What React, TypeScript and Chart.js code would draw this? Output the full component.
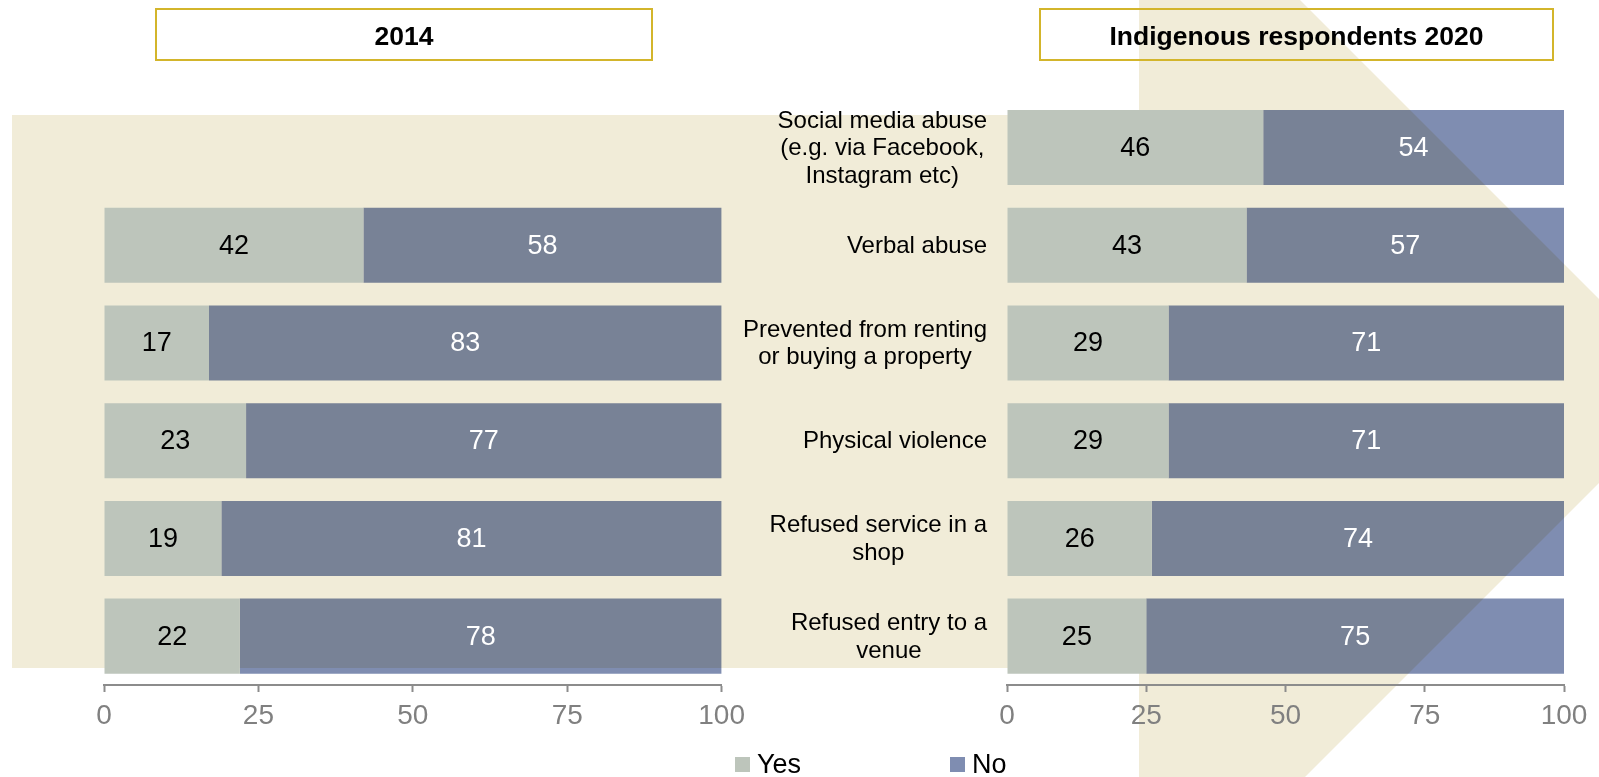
import React, { useEffect, useRef } from "react";
import { Chart, registerables } from "chart.js";

Chart.register(...registerables);

// ---------- data ----------
const categories: string[][] = [
  ["Social media abuse", "(e.g. via Facebook,", "Instagram etc)"],
  ["Verbal abuse"],
  ["Prevented from renting", "or buying a property"],
  ["Physical violence"],
  ["Refused service in a", "shop"],
  ["Refused entry to a", "venue"],
];
const yes2014 = [null, 42, 17, 23, 19, 22];
const no2014 = [null, 58, 83, 77, 81, 78];
const yes2020 = [46, 43, 29, 29, 26, 25];
const no2020 = [54, 57, 71, 71, 74, 75];
const xTicks = [0, 25, 50, 75, 100];
const seriesNames = ["Yes", "No"];
const panelTitles = ["2014", "Indigenous respondents 2020"];

// ---------- styles ----------
const FONT = '"Liberation Sans", Arial, Helvetica, sans-serif';
const YES_COLOR = "#bdc5bb";
const NO_COLOR = "#7f8db1";
const BEIGE = "#f1ecd8";
const AXIS = "#8c8c8c";
const GOLD = "#d3b52b";
const W = 1599;
const H = 777;

function drawBackground(ctx: CanvasRenderingContext2D, offsetX: number) {
  ctx.save();
  ctx.translate(-offsetX, 0);
  ctx.fillStyle = BEIGE;
  ctx.beginPath();
  ctx.moveTo(12, 115);
  ctx.lineTo(1139, 115);
  ctx.lineTo(1139, -5);
  ctx.lineTo(1295, -5);
  ctx.lineTo(1691, 391);
  ctx.lineTo(1277, 805);
  ctx.lineTo(1139, 805);
  ctx.lineTo(1139, 668);
  ctx.lineTo(12, 668);
  ctx.closePath();
  ctx.fill();
  ctx.restore();
}

function makePlugin(offsetX: number, drawCats: boolean) {
  return {
    id: "custom" + offsetX,
    beforeDraw(chart: any) {
      drawBackground(chart.ctx, offsetX);
    },
    beforeDatasetDraw(chart: any, args: any) {
      if (args.index % 2 === 1) {
        chart.ctx.save();
        chart.ctx.globalCompositeOperation = "multiply";
      }
    },
    afterDatasetDraw(chart: any, args: any) {
      if (args.index % 2 === 1) chart.ctx.restore();
    },
    afterDatasetsDraw(chart: any) {
      const ctx: CanvasRenderingContext2D = chart.ctx;
      ctx.save();
      ctx.font = `27px ${FONT}`;
      ctx.textAlign = "center";
      ctx.textBaseline = "middle";
      chart.data.datasets.forEach((ds: any, i: number) => {
        const meta = chart.getDatasetMeta(i);
        meta.data.forEach((el: any, j: number) => {
          const v = ds.data[j];
          if (v == null) return;
          const p = el.getProps(["x", "y", "base"], true);
          ctx.fillStyle = i % 2 === 0 ? "#000000" : "#ffffff";
          ctx.fillText(String(v), (p.x + p.base) / 2, p.y + 1);
        });
      });
      if (drawCats) {
        const yScale = chart.scales.y;
        const rightX = 987 - offsetX;
        const lh = 27.5;
        ctx.font = `24px ${FONT}`;
        ctx.fillStyle = "#000000";
        categories.forEach((lines, j) => {
          const cy = yScale.getPixelForValue(j);
          const bw = Math.max(...lines.map((l) => ctx.measureText(l).width));
          const cx = rightX - bw / 2;
          lines.forEach((l, k) => {
            ctx.fillText(l, cx, cy + (k - (lines.length - 1) / 2) * lh + 1);
          });
        });
      }
      ctx.restore();
    },
  };
}

function makeConfig(yes: (number | null)[], no: (number | null)[], padLeft: number, padRight: number, offsetX: number, drawCats: boolean): any {
  const ds = (label: string, data: (number | null)[], color: string) => ({
    label,
    data,
    backgroundColor: color,
    borderWidth: 0,
    barPercentage: 0.768,
    categoryPercentage: 1,
  });
  return {
    type: "bar",
    data: {
      labels: categories.map((c) => c.join(" ")),
      datasets: [ds(seriesNames[0], yes, YES_COLOR), ds(seriesNames[1], no, NO_COLOR)],
    },
    options: {
      responsive: false,
      maintainAspectRatio: false,
      animation: false,
      devicePixelRatio: 1,
      indexAxis: "y",
      layout: { padding: { left: padLeft, right: padRight, top: 98.65, bottom: 32 } },
      plugins: {
        legend: { display: false },
        tooltip: { enabled: false },
        title: { display: false },
      },
      scales: {
        y: { type: "category", display: false, stacked: true, offset: true },
        x: {
          type: "linear",
          position: "bottom",
          min: 0,
          max: 100,
          stacked: true,
          afterBuildTicks: (s: any) => {
            s.ticks = xTicks.map((v) => ({ value: v }));
          },
          afterFit: (s: any) => {
            s.height = 60;
          },
          grid: {
            display: true,
            drawOnChartArea: false,
            drawTicks: true,
            tickLength: 7,
            tickColor: AXIS,
            tickWidth: 2,
          },
          border: { display: true, color: AXIS, width: 2 },
          ticks: {
            color: "#808080",
            font: { family: FONT, size: 28 },
            padding: 7,
            maxRotation: 0,
            autoSkip: false,
          },
        },
      },
    },
    plugins: [makePlugin(offsetX, drawCats)],
  };
}

const LEFT_X = 0;
const LEFT_W = 752;
const RIGHT_X = 735;
const RIGHT_W = W - RIGHT_X;

export default function App() {
  const leftRef = useRef<HTMLCanvasElement>(null);
  const rightRef = useRef<HTMLCanvasElement>(null);

  useEffect(() => {
    const c1 = new Chart(leftRef.current as HTMLCanvasElement, makeConfig(yes2014, no2014, 104, LEFT_W - 723, LEFT_X, false));
    const c2 = new Chart(rightRef.current as HTMLCanvasElement, makeConfig(yes2020, no2020, 1007 - RIGHT_X, W - 1564, RIGHT_X, true));
    return () => {
      c1.destroy();
      c2.destroy();
    };
  }, []);

  const titleBox = (left: number, width: number, text: string) => (
    <div
      style={{
        position: "absolute",
        left,
        top: 8,
        width,
        height: 53,
        boxSizing: "border-box",
        border: `2px solid ${GOLD}`,
        display: "flex",
        alignItems: "center",
        justifyContent: "center",
        paddingTop: 3,
        fontFamily: FONT,
        fontWeight: "bold",
        fontSize: 26.5,
        color: "#000",
      }}
    >
      {text}
    </div>
  );

  const legendItem = (sqLeft: number, color: string, text: string) => (
    <React.Fragment key={text}>
      <div style={{ position: "absolute", left: sqLeft, top: 757, width: 15, height: 15, background: color }} />
      <div
        style={{
          position: "absolute",
          left: sqLeft + 22,
          top: 751,
          fontFamily: FONT,
          fontSize: 27,
          lineHeight: "27px",
          color: "#000",
          whiteSpace: "nowrap",
        }}
      >
        {text}
      </div>
    </React.Fragment>
  );

  return (
    <div style={{ position: "absolute", left: 0, top: 0, width: W, height: H, overflow: "hidden", background: "#fff" }}>
      <canvas ref={leftRef} width={LEFT_W} height={H} style={{ position: "absolute", left: LEFT_X, top: 0, width: LEFT_W, height: H }} />
      <canvas ref={rightRef} width={RIGHT_W} height={H} style={{ position: "absolute", left: RIGHT_X, top: 0, width: RIGHT_W, height: H }} />
      {titleBox(155, 498, panelTitles[0])}
      {titleBox(1039, 515, panelTitles[1])}
      {legendItem(735, YES_COLOR, seriesNames[0])}
      {legendItem(950, NO_COLOR, seriesNames[1])}
    </div>
  );
}
